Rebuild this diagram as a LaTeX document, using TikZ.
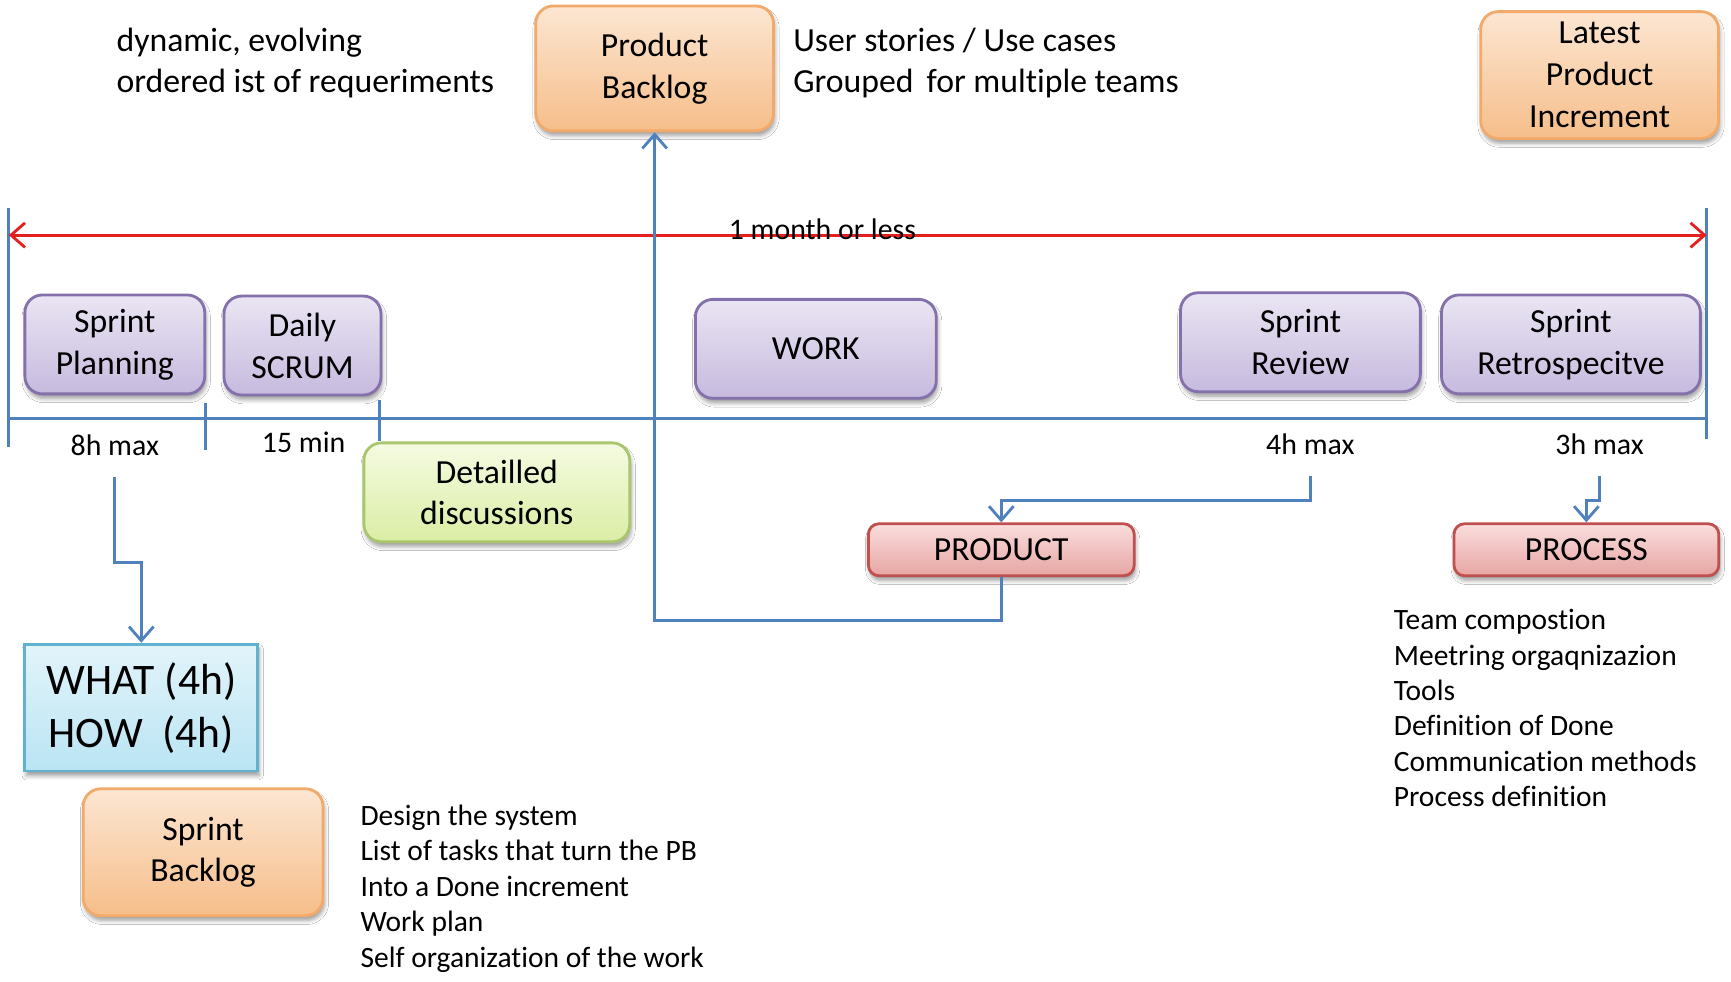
\documentclass[tikz,border=0pt]{standalone}
\usepackage{fontspec}
\setmainfont{Carlito}[Ligatures=NoCommon]
\usetikzlibrary{arrows.meta,shadows.blur,positioning}

\begin{document}
\begin{tikzpicture}[x=0.01104cm, y=-0.01104cm,
    boxtext/.style={font=\fontsize{9.6}{11.9}\selectfont, align=center},
    boxshadow/.style={blur shadow={shadow xshift=0.4pt, shadow yshift=-1.3pt, shadow blur radius=1.2pt, shadow blur steps=5, shadow opacity=40}},
    basebox/.style={boxtext, boxshadow, rounded corners=5pt, line width=0.8pt, inner sep=0pt},
    orangebox/.style={basebox, draw=orangeline, top color=orangetop, bottom color=orangebottom},
    purplebox/.style={basebox, draw=purpleline, top color=purpletop, bottom color=purplebottom},
    greenbox/.style={basebox, draw=greenline, top color=greentop, bottom color=greenbottom},
    redbox/.style={basebox, rounded corners=3pt, draw=redline, top color=redtop, bottom color=redbottom},
    notetext/.style={font=\fontsize{9.6}{11.9}\selectfont, align=left, anchor=west, inner sep=0pt},
    listtext/.style={font=\fontsize{8.4}{10.1}\selectfont, align=left, anchor=west, inner sep=0pt},
    timetext/.style={font=\fontsize{8.5}{10}\selectfont, inner xsep=0pt, inner ysep=6pt},
    flowline/.style={draw=flowcolor, line width=0.8pt},
    flowarrow/.style={flowline, -{Straight Barb[length=4pt,width=7pt]}},
]
    % Define colors
    \definecolor{orangeline}{RGB}{241, 170, 105}
    \definecolor{orangetop}{RGB}{252, 230, 210}
    \definecolor{orangebottom}{RGB}{246, 190, 138}
    \definecolor{purpleline}{RGB}{132, 112, 170}
    \definecolor{purpletop}{RGB}{234, 229, 243}
    \definecolor{purplebottom}{RGB}{198, 186, 222}
    \definecolor{greenline}{RGB}{170, 198, 108}
    \definecolor{greentop}{RGB}{245, 251, 226}
    \definecolor{greenbottom}{RGB}{218, 237, 164}
    \definecolor{redline}{RGB}{192, 80, 77}
    \definecolor{redtop}{RGB}{250, 222, 221}
    \definecolor{redbottom}{RGB}{230, 165, 163}
    \definecolor{blueline}{RGB}{96, 178, 208}
    \definecolor{bluetop}{RGB}{226, 244, 250}
    \definecolor{bluebottom}{RGB}{186, 228, 243}
    \definecolor{flowcolor}{RGB}{79, 129, 189}
    \definecolor{spancolor}{RGB}{228, 32, 30}

    % Canvas
    \fill[white] (0,0) rectangle (1568,889);
    \useasboundingbox (0,0) rectangle (1568,889);

    % Backlogs and increment
    \node[orangebox, minimum width=2.38cm, minimum height=1.25cm] (pbacklog) at (593,62) {Product\\Backlog};
    \node[orangebox, minimum width=2.38cm, minimum height=1.27cm] (increment) at (1449,68) {Latest\\Product\\Increment};
    \node[notetext] (pbnote) at (105,57) {dynamic, evolving\\ordered ist of requeriments};
    \node[notetext] (storynote) at (718,57) {User stories / Use cases\\Grouped\, for multiple teams};

    % Sprint span
    \coordinate (spanleft) at (8,213);
    \coordinate (spanright) at (1546,213);
    \draw[flowline] (8,188) -- (8,405);
    \draw[flowline] (1546,188) -- (1546,398);
    \draw[spancolor, line width=0.8pt, {Straight Barb[length=4pt,width=7pt]}-{Straight Barb[length=4pt,width=7pt]}] (spanleft) -- (spanright);
    \node[timetext, inner ysep=0pt] (spanlabel) at (745,208) {1 month or less};

    % Events
    \node[purplebox, minimum width=1.80cm, minimum height=0.99cm] (planning) at (104,312) {Sprint\\Planning};
    \node[purplebox, minimum width=1.57cm, minimum height=0.99cm] (daily) at (274,313) {Daily\\SCRUM};
    \node[purplebox, minimum width=2.41cm, minimum height=0.99cm] (work) at (739,316) {WORK};
    \node[purplebox, minimum width=2.40cm, minimum height=0.99cm] (review) at (1178,310) {Sprint\\Review};
    \node[purplebox, minimum width=2.59cm, minimum height=0.99cm] (retro) at (1423,312) {Sprint\\Retrospecitve};

    % Timeline
    \coordinate (tlleft) at (8,379);
    \coordinate (tlright) at (1546,379);
    \draw[flowline] (tlleft) -- (tlright);
    \draw[flowline] (186,365) -- (186,408);

    % Durations
    \node[timetext] (planningtime) at (104,403) {8h max};
    \node[timetext] (dailytime) at (275,401) {15 min};
    \node[timetext] (reviewtime) at (1187,402) {4h max};
    \node[timetext] (retrotime) at (1449,402) {3h max};

    % Outcomes
    \node[greenbox, minimum width=2.66cm, minimum height=0.99cm] (discuss) at (450,446) {Detailled\\discussions};
    \coordinate (dailyend) at (344,362);
    \draw[flowline] (dailyend) -- (dailyend |- discuss.north);
    \node[redbox, minimum width=2.66cm, minimum height=0.52cm] (product) at (907,498) {PRODUCT};
    \node[redbox, minimum width=2.65cm, minimum height=0.52cm] (process) at (1437,498) {PROCESS};
    \node[boxtext, boxshadow, draw=blueline, line width=0.8pt, top color=bluetop, bottom color=bluebottom,
        minimum width=2.33cm, minimum height=1.27cm, inner sep=0pt,
        font=\fontsize{12.4}{15.1}\selectfont]
        (whathow) at (128,641) {WHAT (4h)\\HOW\ \ (4h)};
    \node[orangebox, minimum width=2.40cm, minimum height=1.27cm] (sbacklog) at (184,772) {Sprint\\Backlog};

    % Connectors
    \draw[flowarrow] (planningtime.south) -- ++(0,77) -| (whathow.north);
    \draw[flowarrow] (reviewtime.south) -- ++(0,22) -| (product.north);
    \draw[flowarrow] (retrotime.south) -- ++(0,22) -| (process.north);
    \draw[flowarrow] (product.south) -- ++(0,39) -| (pbacklog.south);

    % Notes
    \node[listtext] (sbnote) at (326,805) {Design the system\\List of tasks that turn the PB\\Into a Done increment\\Work plan\\Self organization of the work};
    \node[listtext] (processnote) at (1262,641.5) {Team compostion\\Meetring orgaqnizazion\\Tools\\Definition of Done\\Communication methods\\Process definition};

\end{tikzpicture}
\end{document}
